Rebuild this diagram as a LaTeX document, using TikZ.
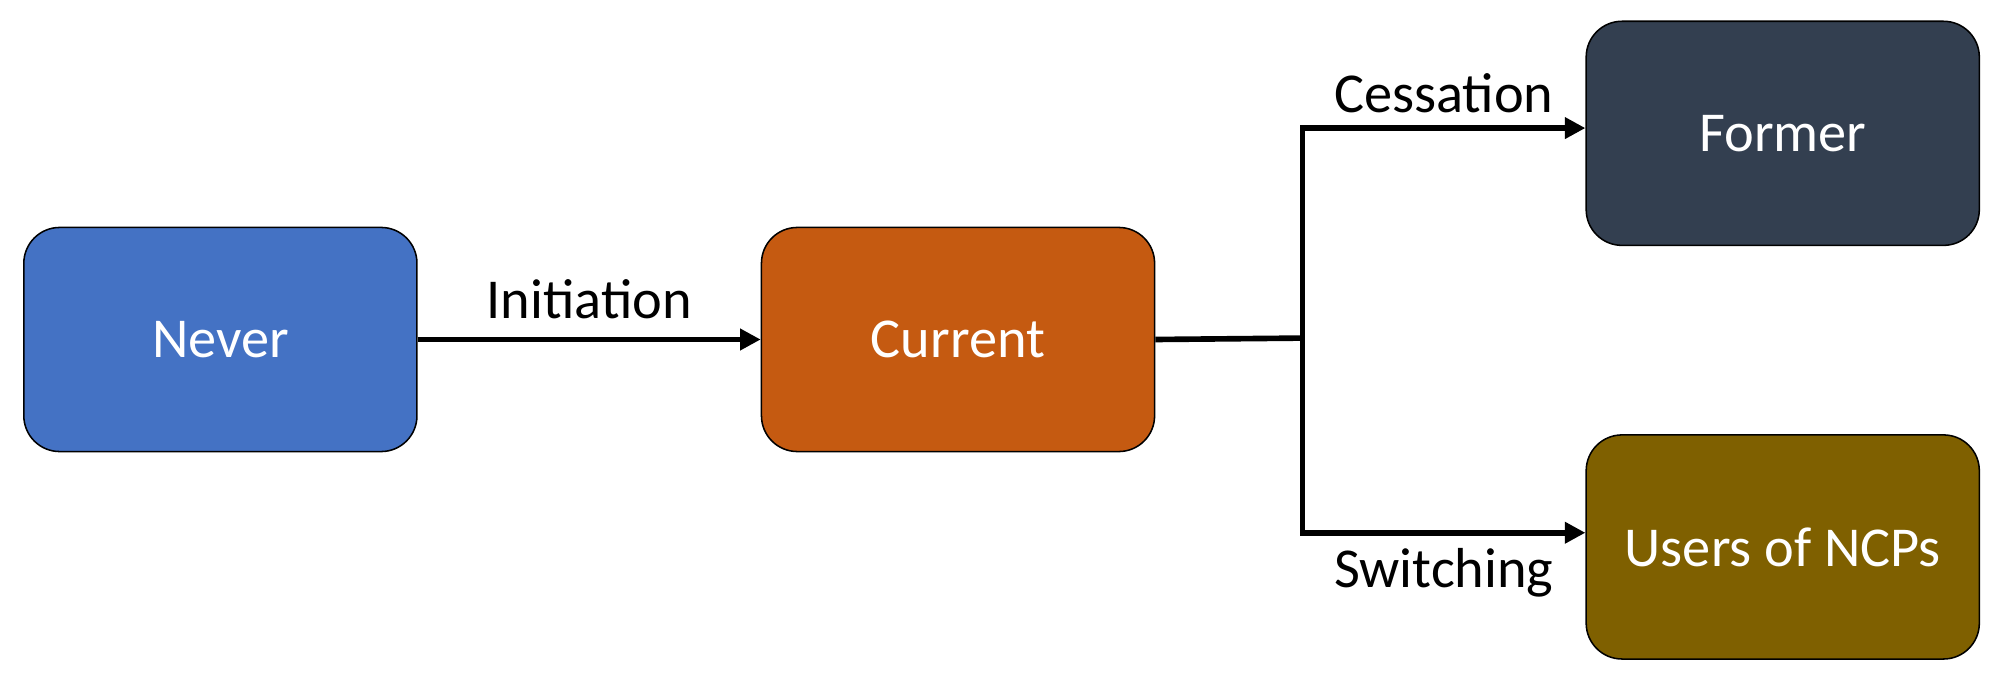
\documentclass[tikz,border=0pt]{standalone}
\usepackage{fontspec}
\setmainfont{Carlito}
\usetikzlibrary{arrows.meta}
\definecolor{cblue}{HTML}{4472C4}
\definecolor{corange}{HTML}{C55A11}
\definecolor{cnavy}{HTML}{333F50}
\definecolor{colive}{HTML}{7F6000}
\begin{document}
\begin{tikzpicture}[x=0.5pt,y=-0.5pt,
  box/.style={draw=black,line width=0.6pt,rounded corners=14pt,minimum width=153.5pt,minimum height=87.5pt,text=white,font=\fontsize{22}{26}\selectfont,anchor=north west,inner sep=0pt},
  conn/.style={line width=2.2pt},
  arr/.style={conn,-{Triangle[length=8pt,width=8pt]}},
  lbl/.style={font=\fontsize{22}{26}\selectfont,inner sep=0pt}]
\useasboundingbox (0,0) rectangle (1568,526);
\node[box,fill=cblue] (never) at (18,177) {Never};
\node[box,fill=corange] (current) at (594,177) {Current};
\node[box,fill=cnavy] (former) at (1238,16) {Former};
\node[box,fill=colive] (users) at (1238,339) {Users of NCPs};
\coordinate (split) at (1017,264);
\draw[arr] (never.east) -- node[lbl,above=7pt] {Initiation} (current.west);
\draw[conn] (current.east) -- (split);
\draw[arr] (split) |- node[lbl,pos=0.75,above=5pt] {Cessation} (former.west|-0,100);
\draw[arr] (split) |- node[lbl,pos=0.75,below=5pt] {Switching} (users.west|-0,416);
\end{tikzpicture}
\end{document}
